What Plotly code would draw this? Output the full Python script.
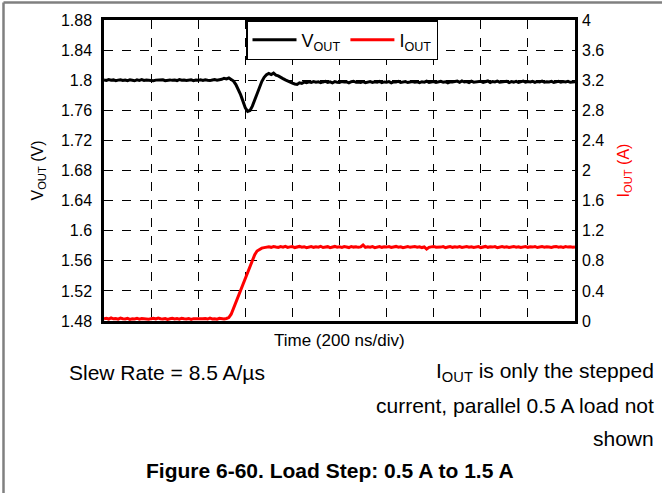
import plotly.graph_objects as go

# sample times (ns), 10 ns per sample, 200 ns/div, 10 divisions
time_ns = list(range(0, 2001, 10))

vout_v = [
    1.8002, 1.7996, 1.8008, 1.7999, 1.8004, 1.7993, 1.8001, 1.8006, 1.7997, 1.8003,
    1.7995, 1.8005, 1.8000, 1.7992, 1.8004, 1.7998, 1.8007, 1.7996, 1.8002, 1.7999,
    1.8005, 1.7994, 1.8001, 1.8003, 1.7997, 1.8006, 1.7993, 1.8000, 1.8004, 1.7998,
    1.8002, 1.7995, 1.8007, 1.7999, 1.8003, 1.7996, 1.8001, 1.8005, 1.7994, 1.8002,
    1.7998, 1.8004, 1.7997, 1.8006, 1.8000, 1.7995, 1.8003, 1.8008, 1.8001, 1.8004,
    1.8012, 1.8026, 1.8018, 1.8029, 1.8010, 1.7988, 1.7942, 1.7880, 1.7808, 1.7722,
    1.7632, 1.7586, 1.7598, 1.7655, 1.7742, 1.7828, 1.7908, 1.7982, 1.8038, 1.8072,
    1.8091, 1.8076, 1.8094, 1.8068, 1.8058, 1.8034, 1.8021, 1.8004, 1.7986, 1.7974,
    1.7961, 1.7950, 1.7944, 1.7966, 1.7958, 1.7974, 1.7966, 1.7979, 1.7970, 1.7982,
    1.7973, 1.7980, 1.7968, 1.7977, 1.7984, 1.7971, 1.7979, 1.7966, 1.7981, 1.7974,
    1.7969, 1.7983, 1.7975, 1.7978, 1.7965, 1.7980, 1.7986, 1.7972, 1.7977, 1.7970,
    1.7981, 1.7967, 1.7976, 1.7983, 1.7971, 1.7979, 1.7974, 1.7985, 1.7968, 1.7977,
    1.7973, 1.7982, 1.7966, 1.7979, 1.7975, 1.7984, 1.7970, 1.7978, 1.7981, 1.7969,
    1.7976, 1.7983, 1.7972, 1.7979, 1.7967, 1.7980, 1.7974, 1.7986, 1.7971, 1.7978,
    1.7982, 1.7969, 1.7977, 1.7984, 1.7973, 1.7980, 1.7966, 1.7979, 1.7975, 1.7983,
    1.7988, 1.7971, 1.7990, 1.7976, 1.7982, 1.7969, 1.7987, 1.7974, 1.7981, 1.7978,
    1.7985, 1.7972, 1.7979, 1.7990, 1.7970, 1.7983, 1.7976, 1.7987, 1.7973, 1.7980,
    1.7977, 1.7986, 1.7968, 1.7982, 1.7975, 1.7984, 1.7971, 1.7979, 1.7988, 1.7974,
    1.7981, 1.7976, 1.7985, 1.7970, 1.7983, 1.7978, 1.7987, 1.7973, 1.7980, 1.7976,
    1.7984, 1.7971, 1.7979, 1.7986, 1.7974, 1.7982, 1.7977, 1.7985, 1.7972, 1.7980,
    1.7978,
]

iout_a = [
    0.030, 0.036, 0.026, 0.041, 0.029, 0.033, 0.024, 0.038, 0.031, 0.027,
    0.035, 0.022, 0.030, 0.028, 0.037, 0.025, 0.032, 0.029, 0.034, 0.023,
    0.031, 0.036, 0.027, 0.040, 0.030, 0.026, 0.033, 0.021, 0.029, 0.035,
    0.028, 0.032, 0.024, 0.037, 0.030, 0.027, 0.034, 0.022, 0.031, 0.029,
    0.036, 0.025, 0.030, 0.033, 0.026, 0.038, 0.028, 0.031, 0.024, 0.035,
    0.029, 0.027, 0.033, 0.045, 0.090, 0.170, 0.250, 0.330, 0.410, 0.490,
    0.570, 0.650, 0.730, 0.810, 0.880, 0.930, 0.955, 0.968, 0.975, 0.982,
    0.986, 0.979, 0.990, 0.983, 0.977, 0.988, 0.981, 0.992, 0.978, 0.985,
    0.989, 0.976, 0.984, 0.991, 0.980, 0.987, 0.974, 0.983, 0.990, 0.979,
    0.986, 0.981, 0.993, 0.977, 0.984, 0.988, 0.975, 0.982, 0.991, 0.980,
    0.985, 0.978, 0.989, 0.983, 0.976, 0.990, 0.982, 0.987, 0.979, 0.984,
    1.010, 0.978, 0.985, 0.981, 0.988, 0.975, 0.983, 0.990, 0.979, 0.986,
    0.982, 0.989, 0.977, 0.984, 0.991, 0.980, 0.986, 0.974, 0.983, 0.988,
    0.979, 0.985, 0.990, 0.981, 0.987, 0.976, 0.984, 0.955, 0.978, 0.985,
    0.991, 0.980, 0.986, 0.982, 0.988, 0.975, 0.983, 0.990, 0.979, 0.986,
    0.981, 0.988, 0.977, 0.984, 0.990, 0.980, 0.986, 0.978, 0.983, 0.989,
    0.976, 0.985, 0.991, 0.979, 0.986, 0.982, 0.988, 0.975, 0.984, 0.990,
    0.980, 0.987, 0.978, 0.985, 0.991, 0.981, 0.986, 0.977, 0.984, 0.989,
    0.979, 0.986, 0.982, 0.990, 0.976, 0.985, 0.988, 0.980, 0.987, 0.983,
    0.978, 0.986, 0.991, 0.981, 0.985, 0.977, 0.988, 0.982, 0.986, 0.980,
    0.984,
]

x_grid_ns = [0, 200, 400, 600, 800, 1000, 1200, 1400, 1600, 1800, 2000]
v_ticks = [1.48, 1.52, 1.56, 1.60, 1.64, 1.68, 1.72, 1.76, 1.80, 1.84, 1.88]
v_tick_labels = ["1.48", "1.52", "1.56", "1.6", "1.64", "1.68", "1.72", "1.76", "1.8", "1.84", "1.88"]
i_ticks = [0, 0.4, 0.8, 1.2, 1.6, 2.0, 2.4, 2.8, 3.2, 3.6, 4.0]
i_tick_labels = ["0", "0.4", "0.8", "1.2", "1.6", "2", "2.4", "2.8", "3.2", "3.6", "4"]

FONT = "Liberation Sans, Arial, sans-serif"

fig = go.Figure()
fig.add_trace(go.Scatter(x=time_ns, y=vout_v, mode="lines", name="V<sub>OUT</sub>",
                         line=dict(color="black", width=3), yaxis="y"))
fig.add_trace(go.Scatter(x=time_ns, y=iout_a, mode="lines", name="I<sub>OUT</sub>",
                         line=dict(color="#ff0000", width=3), yaxis="y2"))

W, H = 662, 493
L, R, T, B = 104, 87, 20, 172
pw, ph = W - L - R, H - T - B


def px(xp):
    return (xp - L) / pw


def py(yp):
    return (H - B - yp) / ph


fig.update_layout(
    width=W, height=H,
    margin=dict(l=L, r=R, t=T, b=B, pad=0),
    paper_bgcolor="white", plot_bgcolor="white",
    font=dict(family=FONT, size=16, color="black"),
    showlegend=True,
    legend=dict(x=px(246), y=1.0, xanchor="left", yanchor="top", orientation="h",
                bgcolor="white", bordercolor="black", borderwidth=1.5,
                font=dict(size=18, color="black"), itemwidth=44,
                tracegroupgap=0),
    xaxis=dict(range=[0, 2000], tickvals=x_grid_ns, showticklabels=False, ticks="",
               showgrid=True, gridcolor="black", griddash="dash", gridwidth=1,
               showline=True, linecolor="black", linewidth=2.5, mirror=True,
               zeroline=False),
    yaxis=dict(range=[1.48, 1.88], tickvals=v_ticks, ticktext=v_tick_labels, ticks="",
               showgrid=True, gridcolor="black", griddash="dash", gridwidth=1,
               showline=True, linecolor="black", linewidth=2.5, mirror=True,
               zeroline=False, tickfont=dict(size=16), ticklabelstandoff=6,
               title=dict(text="V<sub>OUT</sub> (V)", font=dict(size=16), standoff=14)),
    yaxis2=dict(range=[0, 4], tickvals=i_ticks, ticktext=i_tick_labels, ticks="",
                overlaying="y", side="right", showgrid=False, zeroline=False,
                showline=False, tickfont=dict(size=16), ticklabelstandoff=6,
                title=dict(text="I<sub>OUT</sub> (A)", font=dict(size=16, color="#ff0000"),
                           standoff=14)),
    shapes=[
        dict(type="line", xref="paper", yref="paper", x0=px(3.5), x1=px(662), y0=py(2.5), y1=py(2.5),
             line=dict(color="#808080", width=2.5)),
        dict(type="line", xref="paper", yref="paper", x0=px(3.5), x1=px(3.5), y0=py(2.5), y1=py(493),
             line=dict(color="#808080", width=2.5)),
    ],
    annotations=[
        dict(text="Time (200 ns/div)", xref="paper", yref="paper", x=0.5, y=py(340),
             xanchor="center", yanchor="middle", showarrow=False, font=dict(size=17)),
        dict(text="Slew Rate = 8.5 A/µs", xref="paper", yref="paper", x=px(67), y=py(372),
             xanchor="left", yanchor="middle", showarrow=False, font=dict(size=21)),
        dict(text="I<sub>OUT</sub> is only the stepped", xref="paper", yref="paper", x=px(656), y=py(372),
             xanchor="right", yanchor="middle", showarrow=False, font=dict(size=21)),
        dict(text="current, parallel 0.5 A load not", xref="paper", yref="paper", x=px(656), y=py(405),
             xanchor="right", yanchor="middle", showarrow=False, font=dict(size=21)),
        dict(text="shown", xref="paper", yref="paper", x=px(656), y=py(438),
             xanchor="right", yanchor="middle", showarrow=False, font=dict(size=21)),
        dict(text="<b>Figure 6-60. Load Step: 0.5 A to 1.5 A</b>", xref="paper", yref="paper",
             x=px(330), y=py(470), xanchor="center", yanchor="middle", showarrow=False,
             font=dict(size=21)),
    ],
)

fig.write_html("out.html", config={"displayModeBar": False},
               post_script="document.body.style.margin='0';document.body.style.padding='0';")
